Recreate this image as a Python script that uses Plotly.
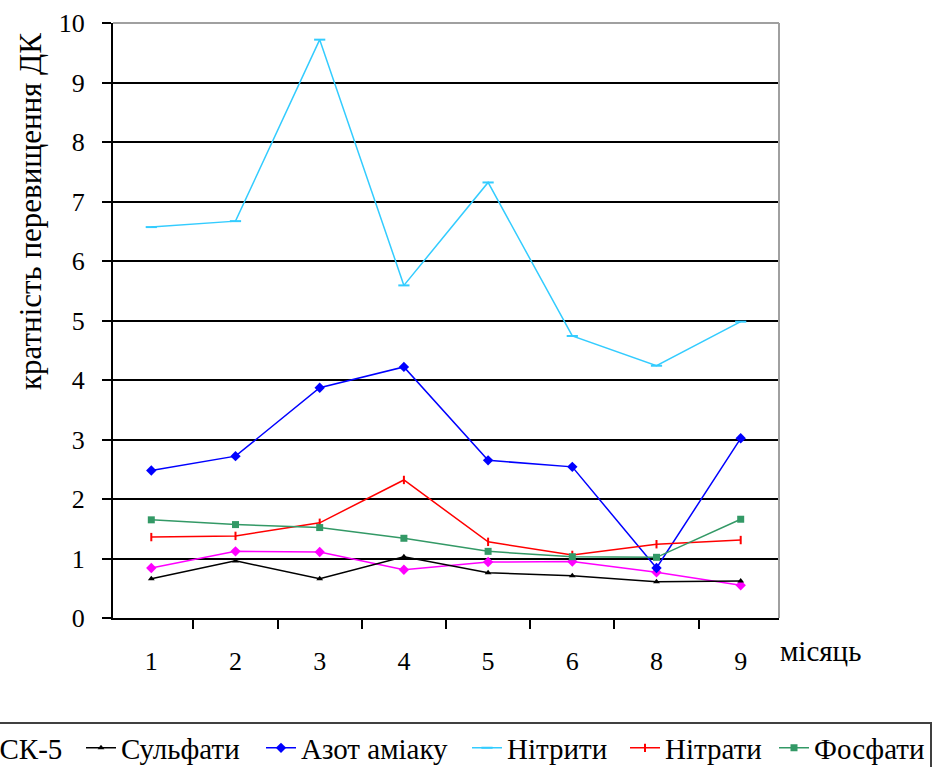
import plotly.graph_objects as go

months = ["1", "2", "3", "4", "5", "6", "8", "9"]

bsk5 = [0.84, 1.12, 1.11, 0.81, 0.94, 0.95, 0.77, 0.55]
sulfaty = [0.66, 0.96, 0.66, 1.03, 0.76, 0.71, 0.61, 0.62]
azot_amiaku = [2.48, 2.72, 3.87, 4.22, 2.65, 2.54, 0.84, 3.02]
nitryty = [6.57, 6.67, 9.72, 5.59, 7.32, 4.74, 4.24, 4.98]
nitraty = [1.36, 1.38, 1.60, 2.32, 1.28, 1.06, 1.24, 1.31]
fosfaty = [1.65, 1.57, 1.52, 1.34, 1.12, 1.03, 1.02, 1.66]

FONT = "Liberation Serif, Times New Roman, serif"

# plot area in pixels: x 113..779, y 23..618
PL, PW, PT, PH = 113, 666, 23, 595


def px(x):
    return (x - PL) / PW


def py(y):
    return (PT + PH - y) / PH


series = [
    ("БСК-5", bsk5, "#ff00ff", dict(symbol="diamond", size=8), -57),
    ("Сульфати", sulfaty, "#000000", dict(symbol="triangle-up", size=6), 81),
    ("Азот аміаку", azot_amiaku, "#0000ff", dict(symbol="diamond", size=8), 261),
    ("Нітрити", nitryty, "#33ccff", dict(symbol="line-ew-open", size=8, line=dict(width=2, color="#33ccff")), 467),
    ("Нітрати", nitraty, "#ff0000", dict(symbol="line-ns-open", size=6, line=dict(width=2, color="#ff0000")), 625),
    ("Фосфати", fosfaty, "#339966", dict(symbol="square", size=7), 774),
]

fig = go.Figure()
legends = {}
for i, (name, vals, color, mk, lx) in enumerate(series):
    marker = dict(color=color)
    marker.update(mk)
    lname = "legend" if i == 0 else f"legend{i + 1}"
    fig.add_trace(go.Scatter(
        x=months, y=vals, name=name, mode="lines+markers",
        line=dict(color=color, width=1.5), marker=marker, legend=lname,
    ))
    legends[lname] = dict(
        orientation="h", xanchor="left", yanchor="middle",
        x=px(lx), y=py(748),
        borderwidth=0, bgcolor="rgba(0,0,0,0)",
        font=dict(family=FONT, size=29, color="#000000"),
    )

fig.update_layout(
    width=935, height=767,
    margin=dict(l=PL, r=935 - PL - PW, t=PT, b=767 - PT - PH, autoexpand=False),
    paper_bgcolor="white", plot_bgcolor="white",
    font=dict(family=FONT, size=26, color="#000000"),
    showlegend=True,
    xaxis=dict(
        type="category", categoryorder="array", categoryarray=months,
        tickson="boundaries", ticks="outside", ticklen=9, tickwidth=2, tickcolor="#000000",
        showline=True, linecolor="#000000", linewidth=2, showgrid=False,
        ticklabelstandoff=19,
        tickfont=dict(family=FONT, size=26),
    ),
    yaxis=dict(
        range=[0, 10], dtick=1, tick0=0,
        ticks="outside", ticklen=9, tickwidth=2, tickcolor="#000000",
        showline=True, linecolor="#000000", linewidth=2,
        showgrid=True, gridcolor="#000000", gridwidth=2,
        zeroline=False,
        ticklabelstandoff=12,
        tickfont=dict(family=FONT, size=26),
    ),
    shapes=[
        dict(type="line", xref="paper", yref="paper", x0=0, x1=1, y0=1, y1=1,
             line=dict(color="#a0a0a0", width=2), layer="above"),
        dict(type="line", xref="paper", yref="paper", x0=1, x1=1, y0=0, y1=1,
             line=dict(color="#a0a0a0", width=2), layer="above"),
        dict(type="rect", xref="paper", yref="paper",
             x0=px(-20), x1=px(931), y0=py(800), y1=py(723),
             line=dict(color="#404040", width=2), fillcolor="rgba(0,0,0,0)", layer="above"),
    ],
    annotations=[
        dict(text="кратність перевищення ДК", xref="paper", yref="paper",
             x=px(30), y=py(212), xanchor="center", yanchor="middle",
             textangle=-90, showarrow=False,
             font=dict(family=FONT, size=31, color="#000000")),
        dict(text="місяць", xref="paper", yref="paper",
             x=px(778), y=py(651),
             xanchor="left", yanchor="middle", showarrow=False,
             font=dict(family=FONT, size=29, color="#000000")),
    ],
    **legends,
)

fig.write_html(
    "out.html",
    config={"displayModeBar": False},
    post_script="document.body.style.margin='0';document.body.style.overflow='hidden';",
)
